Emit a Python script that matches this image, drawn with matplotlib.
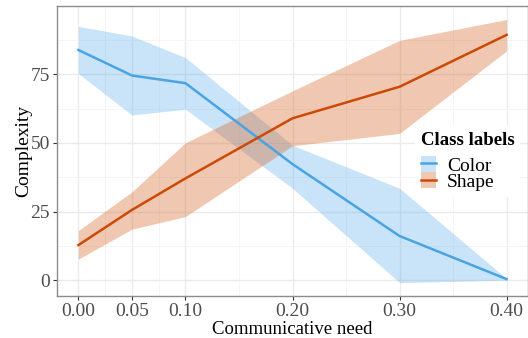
import matplotlib
matplotlib.use("Agg")
import matplotlib.pyplot as plt
from matplotlib.patches import Patch
from matplotlib.lines import Line2D
from matplotlib.ticker import FixedLocator

plt.rcParams['font.family'] = ['Liberation Serif', 'DejaVu Serif']

need = [0.0, 0.05, 0.10, 0.20, 0.30, 0.40]
color_mean = [83.9, 74.6, 71.8, 42.3, 16.1, 0.4]
color_lo = [75.3, 60.2, 62.3, 33.5, -0.9, 0.0]
color_hi = [92.5, 89.0, 81.1, 49.2, 33.5, 0.6]
shape_mean = [12.8, 25.6, 37.1, 59.0, 70.5, 89.4]
shape_lo = [7.7, 18.6, 23.2, 49.0, 53.5, 83.6]
shape_hi = [18.1, 32.2, 50.1, 69.0, 87.4, 95.0]
xtick_labels = ["0.00", "0.05", "0.10", "0.20", "0.30", "0.40"]
yticks = [0, 25, 50, 75]

blue_line = "#4AA3E2"
blue_fill = "#4DA8EA"
orange_line = "#CC4A06"
orange_fill = "#D5601E"

fig = plt.figure(figsize=(5.28, 3.38), dpi=100)
ax = fig.add_axes([0.108, 0.124, 0.892, 0.858])

ax.fill_between(need, color_lo, color_hi, color=blue_fill, alpha=0.3, lw=0, zorder=2)
ax.fill_between(need, shape_lo, shape_hi, color=orange_fill, alpha=0.35, lw=0, zorder=2)
ax.plot(need, color_mean, color=blue_line, lw=1.8, zorder=3)
ax.plot(need, shape_mean, color=orange_line, lw=1.8, zorder=3)

ax.set_xlim(-0.02, 0.42)
ax.set_ylim(-5.8, 99.9)
ax.set_xticks(need)
ax.set_xticklabels(xtick_labels)
ax.set_yticks(yticks)
ax.xaxis.set_minor_locator(FixedLocator([0.025, 0.075, 0.15, 0.25, 0.35]))
ax.yaxis.set_minor_locator(FixedLocator([12.5, 37.5, 62.5, 87.5]))
ax.grid(True, which='major', color="#EBEBEB", lw=1.0, zorder=0)
ax.grid(True, which='minor', color="#F4F4F4", lw=0.6, zorder=0)
ax.set_axisbelow(True)
ax.tick_params(which='minor', length=0)
ax.tick_params(which='major', length=3, color="#333333", labelsize=14, labelcolor="#4D4D4D", pad=2)
for s in ax.spines.values():
    s.set_color("#8C8C8C")
    s.set_linewidth(1.0)

ax.set_xlabel("Communicative need", fontsize=13.5, labelpad=1)
ax.set_ylabel("Complexity", fontsize=14, labelpad=-1)

h_color = (Patch(facecolor=blue_fill, alpha=0.3, lw=0), Line2D([], [], color=blue_line, lw=1.8))
h_shape = (Patch(facecolor=orange_fill, alpha=0.35, lw=0), Line2D([], [], color=orange_line, lw=1.8))
leg = ax.legend([h_color, h_shape], ["Color", "Shape"], title="Class labels",
                loc='upper left', bbox_to_anchor=(0.76, 0.585), frameon=True,
                fontsize=14, title_fontproperties={'weight': 'bold', 'size': 13.5},
                handlelength=0.78, handleheight=0.85, handletextpad=0.57,
                labelspacing=-0.12, borderpad=0.3, borderaxespad=0.0, fancybox=False)
leg._legend_box.sep = 5
leg.get_frame().set_edgecolor("none")
leg.get_frame().set_facecolor("white")
leg.get_frame().set_alpha(1.0)
leg._legend_box.align = "left"

fig.savefig("out.png", dpi=100)
